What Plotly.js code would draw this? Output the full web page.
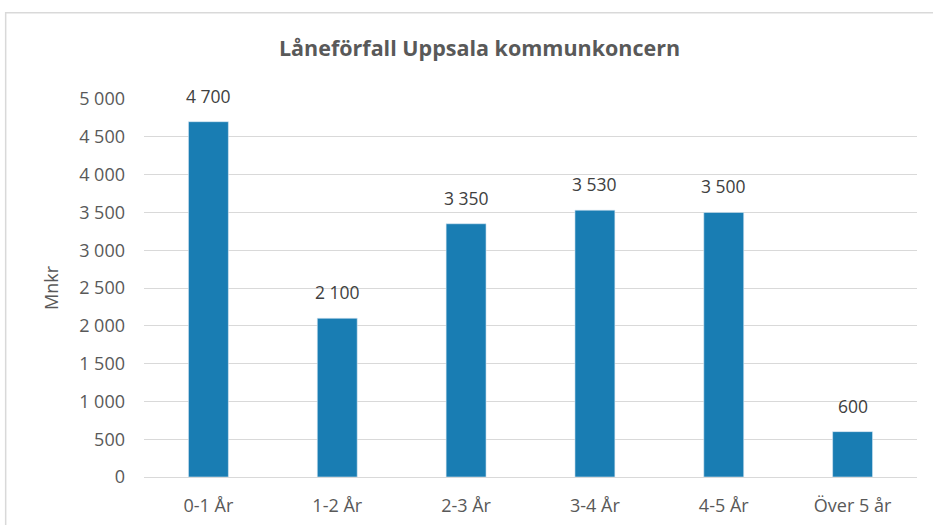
<!DOCTYPE html>
<html>
<head>
<meta charset="utf-8">
<script src="https://cdn.plot.ly/plotly-3.0.1.min.js"></script>
<style>html,body{margin:0;padding:0;background:#fff;}#chart{width:933px;height:525px;}</style>
</head>
<body>
<div id="chart"></div>
<script>
const categories = ["0-1 År", "1-2 År", "2-3 År", "3-4 År", "4-5 År", "Över 5 år"];
const values = [4700, 2100, 3350, 3530, 3500, 600];
const labels = ["4 700", "2 100", "3 350", "3 530", "3 500", "600"];
const yTicks = [0, 500, 1000, 1500, 2000, 2500, 3000, 3500, 4000, 4500, 5000];

const FONT = "Open Sans, Liberation Sans, sans-serif";
const GRAY = "#595959";

const trace = {
  type: "bar",
  x: categories,
  y: values,
  marker: {color: "#197db3", line: {color: "#dceaf4", width: 0.6}},
  hoverinfo: "skip"
};

const annotations = categories.map((c, i) => ({
  x: c, y: values[i], xref: "x", yref: "y",
  text: labels[i], showarrow: false,
  yanchor: "bottom", yshift: 12,
  font: {family: FONT, size: 17.5, color: "#404040"}
}));

const layout = {
  width: 933, height: 525,
  margin: {l: 143.5, r: 15.5, t: 98.5, b: 47.5},
  paper_bgcolor: "#ffffff",
  plot_bgcolor: "#ffffff",
  separators: ", ",
  showlegend: false,
  bargap: 0.69,
  title: {
    text: "<b>Låneförfall Uppsala kommunkoncern</b>",
    x: 0.514, xref: "container", xanchor: "center",
    y: 0.908, yref: "container", yanchor: "middle",
    font: {family: FONT, size: 21.5, color: GRAY}
  },
  xaxis: {
    type: "category",
    showgrid: false, zeroline: false, showline: false,
    ticks: "", ticklabelstandoff: 16,
    tickfont: {family: FONT, size: 18, color: GRAY},
    fixedrange: true
  },
  yaxis: {
    range: [0, 5000],
    tickmode: "array", tickvals: yTicks,
    tickformat: ",d",
    showgrid: true, gridcolor: "#d9d9d9", gridwidth: 1,
    zeroline: true, zerolinecolor: "#d9d9d9", zerolinewidth: 1,
    showline: false, ticks: "", ticklabelstandoff: 18,
    tickfont: {family: FONT, size: 18, color: GRAY},
    title: {text: "Mnkr", standoff: 15, font: {family: FONT, size: 18, color: GRAY}},
    fixedrange: true
  },
  annotations: annotations,
  shapes: [{
    type: "rect", xref: "paper", yref: "paper",
    x0: (5 - 143.5) / 774, x1: (940 - 143.5) / 774,
    y0: (477.5 - 530) / 379, y1: (477.5 - 12) / 379,
    line: {color: "#d9d9d9", width: 1.5}, fillcolor: "rgba(0,0,0,0)", layer: "below"
  }]
};

Plotly.newPlot("chart", [trace], layout, {displayModeBar: false, staticPlot: true});
</script>
</body>
</html>
